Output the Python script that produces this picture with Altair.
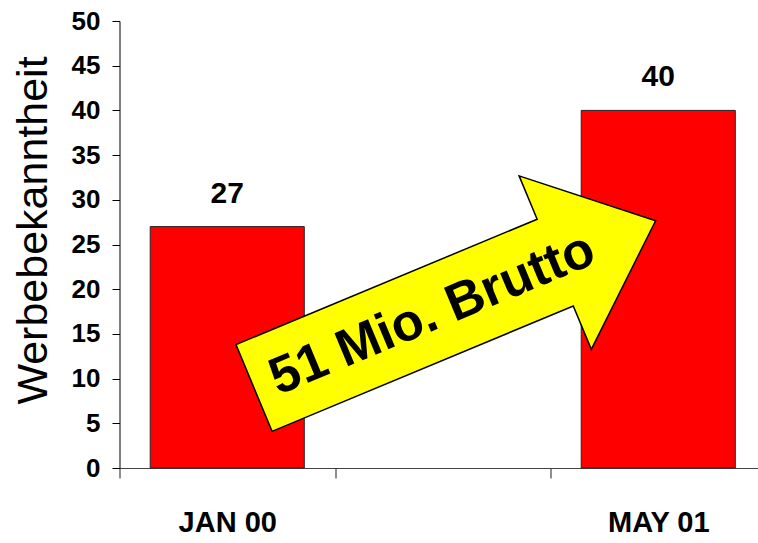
import altair as alt
import pandas as pd

# --- data ---
categories = ["JAN 00", "MAY 01"]
values = [27, 40]
axis_domain = ["JAN 00", " ", "MAY 01"]   # blank middle slot
y_ticks = [0, 5, 10, 15, 20, 25, 30, 35, 40, 45, 50]

annotation_text = ["51 Mio. Brutto"]
arrow_x = [1.556]     # in band-step units along the x axis
arrow_y = [18.3]      # in y data units
label_x = [1.451]
label_y = [17.25]

bars_df = pd.DataFrame({"cat": categories, "val": values})
arrow_df = pd.DataFrame({"x": arrow_x, "y": arrow_y})
label_df = pd.DataFrame({"x": label_x, "y": label_y, "t": annotation_text})

BOLDF = "Liberation Sans, Arial, sans-serif"
REG = "Liberation Sans, Arial, sans-serif"
RANGE = [0, 646.5]

y_scale = alt.Scale(domain=[0, 50], nice=False)
x_band = alt.Scale(domain=axis_domain, range=RANGE, paddingInner=0, paddingOuter=0)

bars = alt.Chart(bars_df).mark_bar(
    color="#FF0000", stroke="#222222", strokeWidth=1, width=alt.RelativeBandSize(0.715)
).encode(
    x=alt.X("cat:N", scale=x_band, sort=axis_domain,
            axis=alt.Axis(title=None, labelAngle=0, tickBand="extent", tickSize=10,
                          labelPadding=30, labelFont=BOLDF, labelFontSize=29,
                          labelFontWeight="bold", labelColor="black",
                          domainColor="#444444", tickColor="#444444",
                          domainWidth=1.2, tickWidth=1.2)),
    y=alt.Y("val:Q", scale=y_scale,
            axis=alt.Axis(title="Werbebekanntheit", values=y_ticks, grid=False,
                          tickSize=7.5, labelPadding=12, labelFont=BOLDF,
                          labelFontSize=26, labelFontWeight="bold", labelColor="black",
                          domainColor="black", tickColor="black",
                          titleFont=REG, titleFontSize=43, titleFontWeight="normal",
                          titleColor="black", titleAngle=270, titleX=-86, titleY=209,
                          titleAlign="center", titleBaseline="middle")),
)

value_labels = alt.Chart(bars_df).mark_text(
    font=BOLDF, fontSize=30, fontWeight="bold", color="black",
    baseline="alphabetic", dy=-24
).encode(
    x=alt.X("cat:N", scale=x_band, sort=axis_domain, axis=None),
    y=alt.Y("val:Q", scale=y_scale),
    text=alt.Text("val:Q"),
)

ARROW_PATH = "M-1,-0.216 L0.5,-0.216 L0.5,-0.432 L1,0 L0.5,0.432 L0.5,0.216 L-1,0.216 Z"
x_quant = alt.Scale(domain=[0, 3], range=RANGE, nice=False, zero=False)

arrow = alt.Chart(arrow_df).mark_point(
    shape=ARROW_PATH, size=189225, filled=True, fill="#FFFF00", stroke="black",
    strokeWidth=1.5, opacity=1, fillOpacity=1, angle=337.4
).encode(
    x=alt.X("x:Q", scale=x_quant, axis=None),
    y=alt.Y("y:Q", scale=y_scale),
)

arrow_text = alt.Chart(label_df).mark_text(
    font=REG, fontSize=52, fontWeight="bold", color="black",
    angle=337.4, align="center", baseline="middle"
).encode(
    x=alt.X("x:Q", scale=x_quant, axis=None),
    y=alt.Y("y:Q", scale=y_scale),
    text="t:N",
)

chart = alt.layer(bars, value_labels, arrow, arrow_text).resolve_scale(
    x="independent"
).properties(
    width=638.5, height=447,
    autosize=alt.AutoSizeParams(type="none"),
    padding={"left": 119.5, "top": 21, "right": 0, "bottom": 75},
    background="white",
).configure_view(stroke=None)

chart.save("out.html", embed_options={"renderer": "svg", "actions": False})
